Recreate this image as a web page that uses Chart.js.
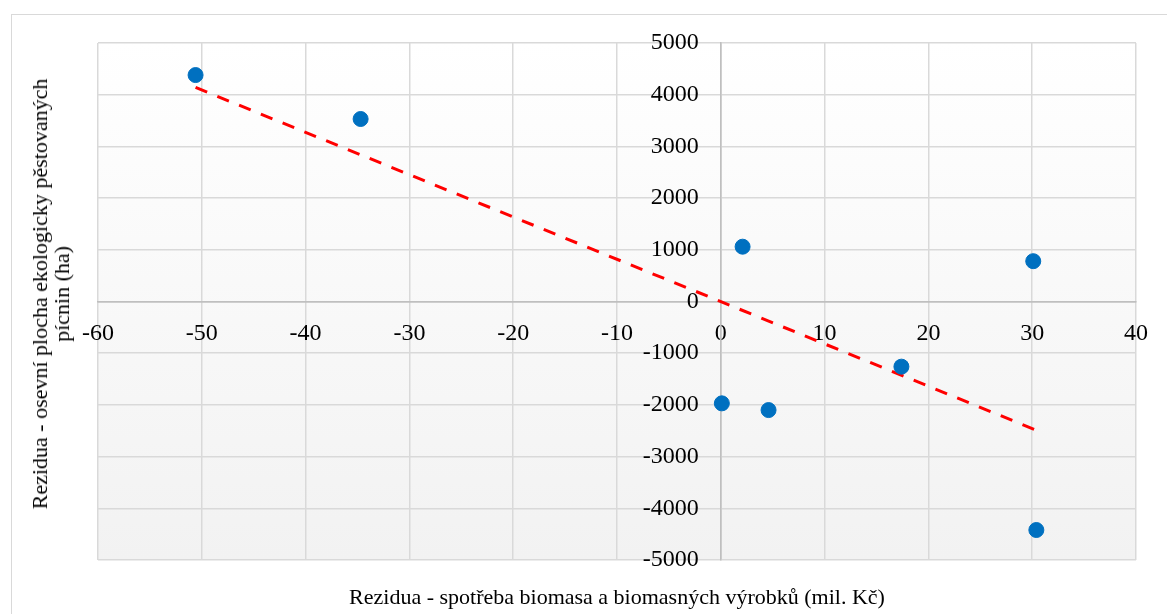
<!DOCTYPE html>
<html>
<head>
<meta charset="utf-8">
<script src="https://cdn.jsdelivr.net/npm/chart.js@4.4.1/dist/chart.umd.min.js"></script>
<style>
  html, body { margin: 0; padding: 0; background: #fff; overflow: hidden; }
  #wrap { position: relative; width: 1167px; height: 614px; }
  #frame { position: absolute; left: 11px; top: 14px; width: 1200px; height: 700px;
           border: 1.5px solid #d9d9d9; box-sizing: border-box; }
  canvas { position: absolute; left: 0; top: 0; }
  .title { position: absolute; font-family: 'Liberation Serif', 'Times New Roman', serif;
           font-size: 22px; color: #000; white-space: nowrap; line-height: 22px; }
  #xTitle { left: 617px; top: 586px; transform: translateX(-50%); }
  #yTitle { left: 51px; top: 294px; text-align: center;
            transform: translate(-50%, -50%) rotate(-90deg); }
</style>
</head>
<body>
<div id="wrap">
  <div id="frame"></div>
  <canvas id="chart" width="1167" height="614"></canvas>
  <div class="title" id="xTitle">Rezidua - spotřeba biomasa a biomasných výrobků (mil. Kč)</div>
  <div class="title" id="yTitle">Rezidua - osevní plocha ekologicky pěstovaných<br>pícnin (ha)</div>
</div>
<script>
'use strict';

// Residual points
const residX = [-50.6, -34.7, 2.1, 30.1, 17.4, 0.1, 4.6, 30.4];
const residY = [4380, 3530, 1060, 780, -1260, -1970, -2100, -4420];

// Linear trendline end points
const trendX = [-50.6, 30.4];
const trendY = [4140, -2490];

// Axis ranges
const xRange = { min: -60, max: 40, step: 10 };
const yRange = { min: -5000, max: 5000, step: 1000 };

const GRID = '#d9d9d9';
const AXIS = '#bfbfbf';
const FONT = "'Liberation Serif', 'Times New Roman', serif";
const Y_LABEL_GAP = 22; // gap between y tick labels and the x=0 axis

const toPoints = (xs, ys) => xs.map((x, i) => ({ x, y: ys[i] }));

// Light vertical gradient behind the plot area
const plotBackground = {
  id: 'plotBackground',
  beforeDraw(chart) {
    const { ctx, chartArea: a } = chart;
    const g = ctx.createLinearGradient(0, a.top, 0, a.bottom);
    g.addColorStop(0, '#ffffff');
    g.addColorStop(1, '#f2f2f2');
    ctx.save();
    ctx.fillStyle = g;
    ctx.fillRect(a.left, a.top, a.right - a.left, a.bottom - a.top);
    ctx.restore();
  },
};

// Axis placed at x=0 puts its labels flush against the line; push them left
const yLabelGap = {
  id: 'yLabelGap',
  beforeDraw(chart) {
    const items = chart.scales.y.getLabelItems();
    items.forEach((item) => {
      if (!item._shifted) {
        item.options.translation[0] -= Y_LABEL_GAP;
        item._shifted = true;
      }
    });
  },
};

const gridColor = (c) => (c.tick && c.tick.value === 0 ? AXIS : GRID);

new Chart(document.getElementById('chart'), {
  type: 'scatter',
  data: {
    datasets: [
      {
        label: 'Rezidua',
        data: toPoints(residX, residY),
        backgroundColor: '#0070c0',
        borderColor: '#0070c0',
        pointRadius: 7.5,
        pointHoverRadius: 7.5,
        order: 1,
      },
      {
        label: 'Trend',
        type: 'line',
        data: toPoints(trendX, trendY),
        borderColor: '#ff0000',
        borderWidth: 3,
        borderDash: [12.5, 11],
        pointRadius: 0,
        fill: false,
        order: 2,
      },
    ],
  },
  options: {
    responsive: false,
    animation: false,
    layout: { padding: { left: 98, right: 31, top: 43, bottom: 54 } },
    plugins: {
      legend: { display: false },
      tooltip: { enabled: false },
    },
    scales: {
      x: {
        type: 'linear',
        position: { y: 0 },
        min: xRange.min,
        max: xRange.max,
        grid: { color: gridColor, lineWidth: 1.5, drawTicks: false },
        border: { display: true, color: AXIS, width: 1.5 },
        ticks: {
          stepSize: xRange.step,
          padding: 18,
          color: '#000',
          font: { family: FONT, size: 24 },
          maxRotation: 0,
          callback: (v) => String(v),
        },
      },
      y: {
        type: 'linear',
        position: { x: 0 },
        min: yRange.min,
        max: yRange.max,
        grid: { color: gridColor, lineWidth: 1.5, drawTicks: false },
        border: { display: true, color: AXIS, width: 1.5 },
        ticks: {
          stepSize: yRange.step,
          padding: 0,
          color: '#000',
          font: { family: FONT, size: 24 },
          callback: (v) => String(v),
        },
      },
    },
  },
  plugins: [plotBackground, yLabelGap],
});
</script>
</body>
</html>
